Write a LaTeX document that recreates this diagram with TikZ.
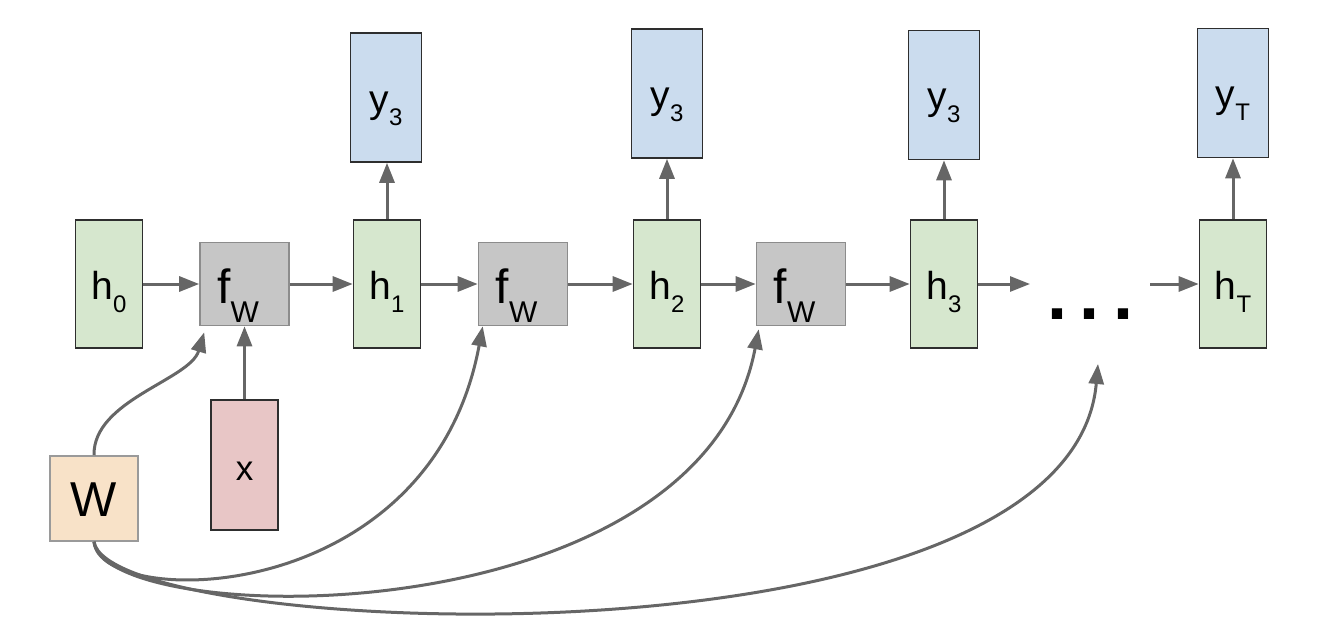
\documentclass[tikz,border=0pt]{standalone}
\usepackage{fontspec}
\setmainfont{Liberation Sans}
\usetikzlibrary{arrows.meta}

\definecolor{hgreen}{HTML}{D6E7CE}
\definecolor{yblue}{HTML}{CBDCEE}
\definecolor{fgray}{HTML}{C6C6C6}
\definecolor{xred}{HTML}{E8C6C6}
\definecolor{worange}{HTML}{F8E2C8}
\definecolor{edge}{HTML}{2E2E2E}
\definecolor{fedge}{HTML}{8C8C8C}
\definecolor{wedge}{HTML}{9A9A9A}
\definecolor{wire}{HTML}{666666}

\newcommand{\idx}[1]{\raisebox{-13pt}{\fontsize{24}{24}\selectfont #1}}
\newcommand{\fw}{f\raisebox{-19pt}{\fontsize{30}{30}\selectfont W}\kern13pt}

\begin{document}
\begin{tikzpicture}[x=1pt, y=-1pt,
  cell/.style={draw=edge, line width=1.6pt, inner sep=0pt, text depth=10pt},
  hstate/.style={cell, fill=hgreen, minimum width=67pt, minimum height=128pt,
    text height=40pt, font=\fontsize{39}{39}\selectfont},
  yout/.style={cell, fill=yblue, minimum width=71pt, minimum height=129pt,
    text height=39pt, font=\fontsize{39}{39}\selectfont},
  fbox/.style={cell, draw=fedge, fill=fgray, minimum width=89pt, minimum height=83pt,
    text height=48pt, font=\fontsize{48}{48}\selectfont},
  xin/.style={cell, fill=xred, minimum width=67pt, minimum height=130pt,
    text height=40pt, font=\fontsize{35}{35}\selectfont},
  wbox/.style={cell, draw=wedge, fill=worange, minimum width=88pt, minimum height=85pt,
    text height=36pt, text depth=0pt, font=\fontsize{49}{49}\selectfont},
  more/.style={anchor=base, inner sep=0pt, font=\bfseries\fontsize{72}{72}\selectfont},
  flow/.style={draw=wire, line width=3pt, -{Triangle[length=20pt,width=15pt]}}]
  \useasboundingbox (0,0) rectangle (1328,624);

  % hidden states and cells
  \node[hstate] (h0) at (109,284) {h\idx{0}};
  \node[fbox] (fw1) at (244.5,284) {\fw};
  \node[hstate] (h1) at (387,284) {h\idx{1}};
  \node[fbox] (fw2) at (523,284) {\fw};
  \node[hstate] (h2) at (667,284) {h\idx{2}};
  \node[fbox] (fw3) at (801,284) {\fw};
  \node[hstate] (h3) at (944,284) {h\idx{3}};
  \node[hstate] (hT) at (1233,284) {h\idx{T}};
  \node[more] (dots) at (1090,319) {.\kern13pt.\kern13pt.};

  % outputs
  \node[yout] (y1) at (386,97.5) {y\idx{3}};
  \node[yout] (y2) at (667,93.5) {y\idx{3}};
  \node[yout] (y3) at (944,95) {y\idx{3}};
  \node[yout] (yT) at (1233,93) {y\idx{T}};

  % inputs
  \node[xin] (x) at (244.5,465) {x};
  \node[wbox] (W) at (94,498.5) {W};

  \coordinate (gap) at (1030,284);
  \coordinate (resume) at (1150,284);
  \coordinate (dotin) at (1098,364);

  \draw[flow] (h0) -- (fw1);
  \draw[flow] (fw1) -- (h1);
  \draw[flow] (h1) -- (fw2);
  \draw[flow] (fw2) -- (h2);
  \draw[flow] (h2) -- (fw3);
  \draw[flow] (fw3) -- (h3);
  \draw[flow] (h3) -- (gap);
  \draw[flow] (resume) -- (hT);
  \draw[flow] (x) -- (fw1);
  \foreach \h/\y in {h1/y1, h2/y2, h3/y3, hT/yT}
    \draw[flow] (\h.north) -- (\h |- \y.south);

  % shared weights
  \draw[flow] (W.north) .. controls (93,400) and (190,380) .. ([xshift=5pt,yshift=-6pt]fw1.south west);
  \draw[flow] (W.south) .. controls (100,610) and (430,610) .. ([xshift=5pt]fw2.south west);
  \draw[flow] (W.south) .. controls (105,630) and (700,640) .. ([xshift=3pt,yshift=-3pt]fw3.south west);
  \draw[flow] (W.south) .. controls (110,640) and (1070,680) .. (dotin);
\end{tikzpicture}
\end{document}
